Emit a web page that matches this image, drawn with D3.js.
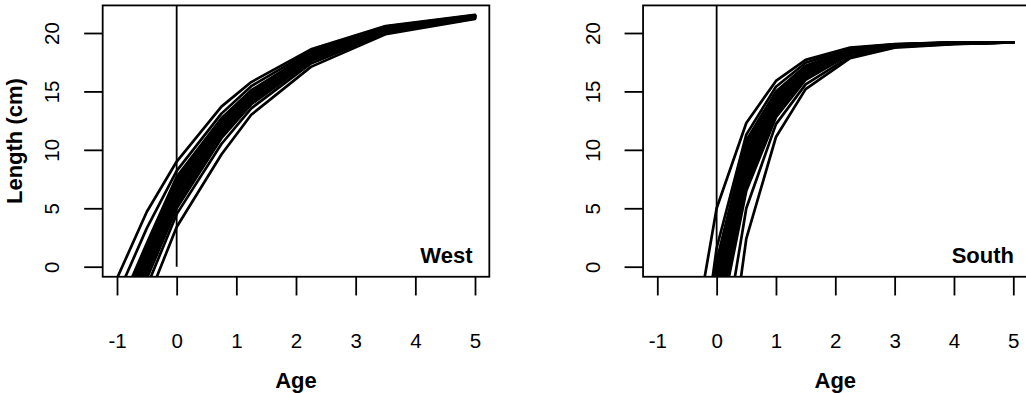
<!DOCTYPE html>
<html>
<head>
<meta charset="utf-8">
<script src="https://cdn.jsdelivr.net/npm/d3@7"></script>
<style>
  body { margin: 0; background: #fff; }
  svg { display: block; }
  text { font-family: "Liberation Sans", Arial, Helvetica, sans-serif; fill: #000; }
</style>
</head>
<body>
<svg id="chart" width="1026" height="393"></svg>
<script>
// Axis ticks shared by both panels
const xTicks = [-1, 0, 1, 2, 3, 4, 5];
const yTicks = [0, 5, 10, 15, 20];
const yLimits = [0, 21.5];

// West: predicted length (cm) at each age, one row per growth curve
const westAges = [-1, -0.5, 0, 0.75, 1.25, 2.25, 3.5, 5];
const westLengths = [
  [-1.0,  4.7,  9.0,  13.7,  15.8,  18.6,  20.6,  21.55],
  [-2.5,  3.3,  8.2,  13.1,  15.45, 18.45, 20.55, 21.52],
  [-3.9,  2.0,  7.7,  12.7,  15.1,  18.3,  20.5,  21.5],
  [-4.15, 1.8,  7.55, 12.6,  15.0,  18.25, 20.48, 21.49],
  [-4.4,  1.6,  7.35, 12.45, 14.95, 18.2,  20.45, 21.47],
  [-4.6,  1.35, 7.2,  12.35, 14.85, 18.15, 20.42, 21.46],
  [-4.8,  1.1,  7.0,  12.25, 14.75, 18.1,  20.4,  21.45],
  [-5.05, 0.95, 6.8,  12.1,  14.68, 18.05, 20.38, 21.43],
  [-5.3,  0.8,  6.65, 12.0,  14.6,  18.0,  20.35, 21.42],
  [-5.7,  0.35, 6.35, 11.8,  14.45, 17.95, 20.3,  21.4],
  [-6.1,  0.0,  6.0,  11.6,  14.3,  17.85, 20.25, 21.37],
  [-6.35, -0.25, 5.8, 11.45, 14.22, 17.8,  20.22, 21.36],
  [-6.6, -0.45, 5.65, 11.35, 14.15, 17.75, 20.2,  21.35],
  [-7.0, -0.75, 5.3,  11.2,  14.05, 17.7,  20.15, 21.32],
  [-7.5, -1.0,  5.0,  11.0,  13.9,  17.6,  20.1,  21.3],
  [-8.0, -1.7,  4.5,  10.5,  13.55, 17.4,  20.0,  21.25],
  [-9.5, -3.0,  3.4,  9.6,   13.0,  17.1,  19.9,  21.2]
];

// South: predicted length (cm) at each age, one row per growth curve
const southAges = [-0.5, 0, 0.5, 1, 1.5, 2.25, 3, 4, 5];
const southLengths = [
  [-9.6,   5.0,  12.3, 15.9,  17.7,  18.75, 19.05, 19.2,  19.2],
  [-17.0,  1.6,  11.3, 15.4,  17.45, 18.68, 19.02, 19.19, 19.2],
  [-20.0,  0.5,  10.8, 15.0,  17.2,  18.6,  19.0,  19.18, 19.2],
  [-20.7,  0.05, 10.5, 14.85, 17.12, 18.58, 18.99, 19.18, 19.2],
  [-21.5, -0.4,  10.2, 14.7,  17.05, 18.55, 18.98, 19.17, 19.2],
  [-22.2, -0.8,  9.9,  14.55, 16.98, 18.52, 18.97, 19.16, 19.2],
  [-23.0, -1.2,  9.65, 14.4,  16.9,  18.5,  18.96, 19.16, 19.2],
  [-23.7, -1.6,  9.3,  14.25, 16.82, 18.48, 18.95, 19.15, 19.2],
  [-24.5, -2.1,  9.0,  14.1,  16.75, 18.45, 18.94, 19.15, 19.2],
  [-25.2, -2.5,  8.7,  13.95, 16.68, 18.42, 18.93, 19.14, 19.2],
  [-26.0, -2.9,  8.4,  13.8,  16.6,  18.4,  18.92, 19.13, 19.2],
  [-26.7, -3.35, 8.1,  13.65, 16.5,  18.38, 18.91, 19.12, 19.2],
  [-27.5, -3.8,  7.8,  13.5,  16.4,  18.35, 18.9,  19.12, 19.2],
  [-28.2, -4.35, 7.45, 13.3,  16.3,  18.32, 18.89, 19.11, 19.2],
  [-29.0, -4.9,  7.15, 13.1,  16.2,  18.3,  18.88, 19.1,  19.2],
  [-30.0, -5.5,  6.8,  12.95, 16.1,  18.25, 18.87, 19.09, 19.2],
  [-31.0, -6.1,  6.5,  12.8,  16.0,  18.2,  18.85, 19.08, 19.2],
  [-34.0, -10.3, 5.0,  12.2,  15.6,  18.0,  18.8,  19.06, 19.2],
  [-55.0, -16.0, 2.4,  11.1,  15.2,  17.85, 18.75, 19.04, 19.2]
];

const panels = [
  { id: "west", label: "West", ages: westAges, lengths: westLengths,
    xRange: [117, 475], yLabel: "Length (cm)", zeroFromAxis: true, tagX: 472.5 },
  { id: "south", label: "South", ages: southAges, lengths: southLengths,
    xRange: [657.3, 1013.3], yLabel: null, zeroFromAxis: false, tagX: 1014 }
];

const svg = d3.select("#chart");
const y = d3.scaleLinear().domain([0, 20]).range([266.7, 33]);
const yPad = 0.04 * (yLimits[1] - yLimits[0]);
const boxTop = y(yLimits[1] + yPad);
const boxBottom = y(yLimits[0] - yPad);

panels.forEach(p => {
  const x = d3.scaleLinear().domain([xTicks[0], xTicks[xTicks.length - 1]]).range(p.xRange);
  const xPad = 0.04 * (xTicks[xTicks.length - 1] - xTicks[0]);
  const boxLeft = x(xTicks[0] - xPad);
  const boxRight = x(xTicks[xTicks.length - 1] + xPad);

  const g = svg.append("g");

  g.append("clipPath").attr("id", "clip-" + p.id)
    .append("rect")
    .attr("x", boxLeft).attr("y", boxTop)
    .attr("width", boxRight - boxLeft).attr("height", boxBottom - boxTop);

  const line = d3.line()
    .x((d, i) => x(p.ages[i]))
    .y(d => y(d));

  g.append("g").attr("clip-path", `url(#clip-${p.id})`)
    .selectAll("path")
    .data(p.lengths)
    .join("path")
    .attr("d", line)
    .attr("fill", "none")
    .attr("stroke", "#000")
    .attr("stroke-width", 2.7)
    .attr("stroke-linejoin", "round")
    .attr("stroke-linecap", "round");

  // Reference line at age 0
  g.append("line")
    .attr("x1", x(0)).attr("x2", x(0))
    .attr("y1", p.zeroFromAxis ? y(0) : boxBottom)
    .attr("y2", boxTop)
    .attr("stroke", "#000").attr("stroke-width", 1.8);

  // Plot frame
  g.append("rect")
    .attr("x", boxLeft).attr("y", boxTop)
    .attr("width", boxRight - boxLeft).attr("height", boxBottom - boxTop)
    .attr("fill", "none").attr("stroke", "#000").attr("stroke-width", 1.8);

  // Bottom axis
  const xAxis = g.append("g")
    .attr("transform", `translate(0,${boxBottom})`)
    .call(d3.axisBottom(x).tickValues(xTicks).tickSize(18.7).tickPadding(38.5)
      .tickFormat(d => d < 0 ? "-" + Math.abs(d) : String(d)));
  xAxis.select(".domain").remove();
  xAxis.selectAll(".tick line").attr("stroke-width", 1.8);
  xAxis.selectAll(".tick text").attr("font-size", 20.5).attr("font-family", null);

  // Left axis with rotated labels
  const yAxis = g.append("g")
    .attr("transform", `translate(${boxLeft},0)`)
    .call(d3.axisLeft(y).tickValues(yTicks).tickSize(18.5));
  yAxis.select(".domain").remove();
  yAxis.selectAll(".tick line").attr("stroke-width", 1.8);
  yAxis.selectAll(".tick text")
    .attr("font-size", 20.5).attr("font-family", null)
    .attr("x", 0).attr("dy", 0)
    .attr("text-anchor", "middle")
    .attr("transform", "translate(-43.5,0) rotate(-90)");

  // Axis titles
  g.append("text")
    .attr("x", (boxLeft + boxRight) / 2).attr("y", 388)
    .attr("text-anchor", "middle")
    .attr("font-size", 22).attr("font-weight", "bold")
    .text("Age");

  if (p.yLabel) {
    g.append("text")
      .attr("transform", `translate(22,${(boxTop + boxBottom) / 2}) rotate(-90)`)
      .attr("text-anchor", "middle")
      .attr("font-size", 22).attr("font-weight", "bold")
      .text(p.yLabel);
  }

  // Region tag
  g.append("text")
    .attr("x", p.tagX).attr("y", 262.5)
    .attr("text-anchor", "end")
    .attr("font-size", 22).attr("font-weight", "bold")
    .text(p.label);
});
</script>
</body>
</html>
